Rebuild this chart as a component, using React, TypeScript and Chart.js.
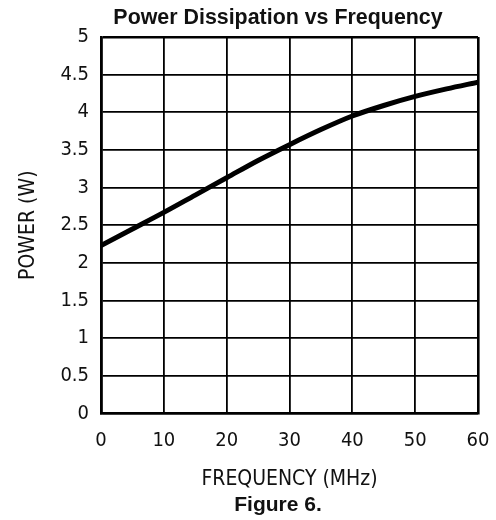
import React, { useEffect, useRef } from "react";
import { Chart, registerables } from "chart.js";

Chart.register(...registerables);

const frequencyMHz = [0, 5, 10, 15, 20, 25, 30, 35, 40, 45, 50, 55, 60];
const powerW = [2.23, 2.45, 2.67, 2.9, 3.13, 3.36, 3.57, 3.77, 3.95, 4.09, 4.21, 4.31, 4.4];

const titleText = "Power Dissipation vs Frequency";
const subtitleText = "Figure 6.";
const xAxisTitle = "FREQUENCY (MHz)";
const yAxisTitle = "POWER (W)";
const xTickRange = { min: 0, max: 60, step: 10 };
const yTickRange = { min: 0, max: 5, step: 0.5 };

const CAD_FONT = "'DejaVu Sans Condensed', 'Liberation Sans Narrow', 'DejaVu Sans', sans-serif";
const BOLD_FONT = "'Liberation Sans', Arial, Helvetica, sans-serif";

export default function App() {
  const canvasRef = useRef<HTMLCanvasElement | null>(null);

  useEffect(() => {
    const canvas = canvasRef.current;
    if (!canvas) return;
    const LEFT_PAD = 78;
    const points = frequencyMHz.map((f, i) => ({ x: f, y: powerW[i] }));
    const chart = new Chart(canvas, {
      type: "line",
      data: {
        datasets: [
          {
            data: points,
            borderColor: "#000",
            borderWidth: 5,
            pointRadius: 0,
            tension: 0.4,
            cubicInterpolationMode: "monotone",
            fill: false,
          },
        ],
      },
      options: {
        responsive: false,
        animation: false,
        devicePixelRatio: 1,
        layout: { padding: { left: LEFT_PAD, right: 18, top: 0, bottom: 0 } },
        plugins: {
          legend: { display: false },
          tooltip: { enabled: false },
          title: {
            display: true,
            text: titleText,
            color: "#111",
            font: { family: BOLD_FONT, size: 21.4, weight: "bold", lineHeight: 1.2 },
            padding: { top: 5.2, bottom: 6.1 },
          },
          subtitle: {
            display: true,
            position: "bottom",
            text: subtitleText,
            color: "#111",
            font: { family: BOLD_FONT, size: 21, weight: "bold", lineHeight: 1.2 },
            padding: { top: 0, bottom: 2.4 },
          },
        },
        scales: {
          x: {
            type: "linear",
            min: xTickRange.min,
            max: xTickRange.max,
            afterFit: (scale: any) => {
              scale.height = 79;
            },
            ticks: {
              stepSize: xTickRange.step,
              color: "#111",
              padding: 0,
              maxRotation: 0,
              font: { family: CAD_FONT, size: 20, lineHeight: 1.2 },
            },
            grid: {
              color: "#000",
              drawTicks: true,
              tickLength: 15,
              tickColor: "rgba(0,0,0,0)",
              lineWidth: (ctx: any) =>
                ctx.tick && (ctx.tick.value === xTickRange.max || ctx.tick.value === xTickRange.min) ? 2.6 : 1.8,
            },
            border: { display: true, color: "#000", width: 2.6 },
            title: {
              display: true,
              text: xAxisTitle,
              color: "#111",
              font: { family: CAD_FONT, size: 21, lineHeight: 1.2 },
              padding: { top: 0, bottom: 0 },
            },
          },
          y: {
            type: "linear",
            min: yTickRange.min,
            max: yTickRange.max,
            afterFit: (scale: any) => {
              scale.width = 101 - LEFT_PAD;
            },
            ticks: {
              stepSize: yTickRange.step,
              color: "#111",
              mirror: true,
              crossAlign: "far",
              padding: -40.6,
              callback: (value: any) => `${Number(value)}`,
              font: { family: CAD_FONT, size: 20, lineHeight: 1.2 },
            },
            grid: {
              color: "#000",
              drawTicks: false,
              lineWidth: (ctx: any) =>
                ctx.tick && (ctx.tick.value === yTickRange.max || ctx.tick.value === yTickRange.min) ? 2.6 : 1.8,
            },
            border: { display: true, color: "#000", width: 2.6 },
            title: {
              display: true,
              text: yAxisTitle,
              color: "#111",
              font: { family: CAD_FONT, size: 21, lineHeight: 1.2 },
              padding: { top: 27 - LEFT_PAD - 11, bottom: 0 },
            },
          },
        },
      },
    });
    return () => chart.destroy();
  }, []);

  return (
    <div style={{ position: "fixed", left: 0, top: 0, width: 496, height: 520, background: "#fff" }}>
      <canvas ref={canvasRef} width={496} height={520} style={{ display: "block" }} />
    </div>
  );
}
